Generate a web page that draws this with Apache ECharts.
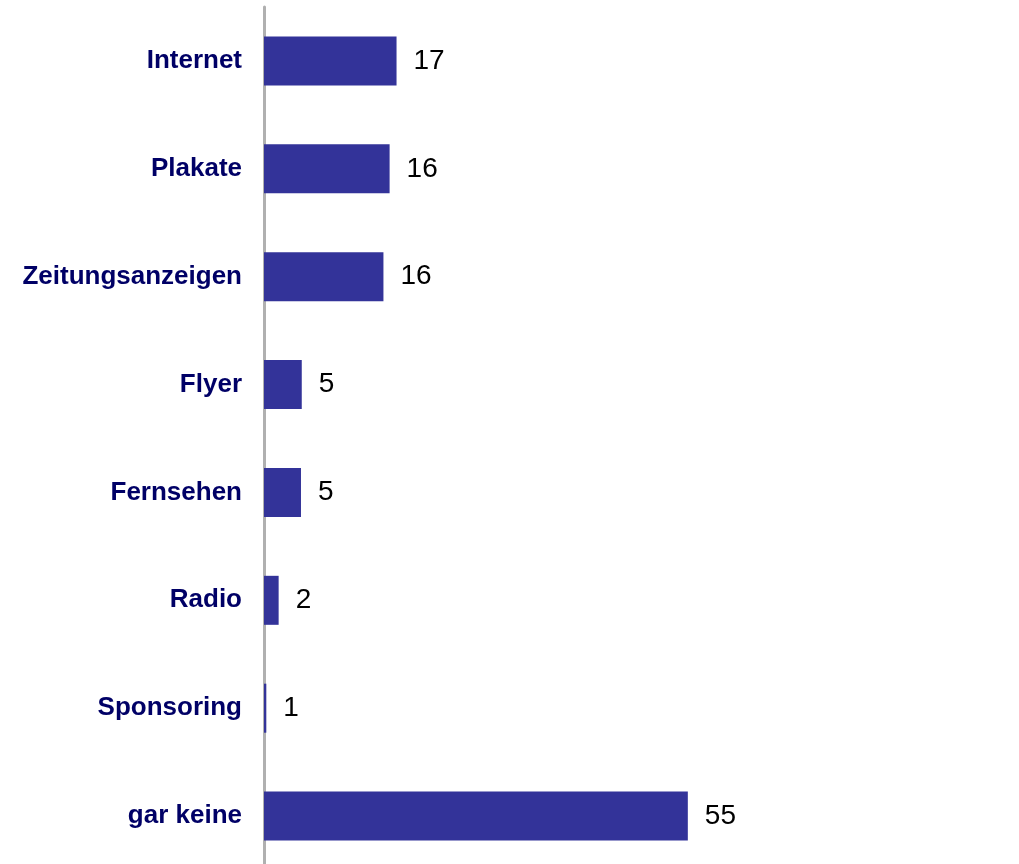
<!DOCTYPE html>
<html>
<head>
<meta charset="utf-8">
<script src="https://cdn.jsdelivr.net/npm/echarts@6/dist/echarts.min.js"></script>
<style>
  html, body { margin: 0; padding: 0; background: #fff; overflow: hidden; }
  #chart { width: 1019px; height: 870px; }
</style>
</head>
<body>
<div id="chart"></div>
<script>
// Kategorien von oben nach unten
const categories = ['Internet', 'Plakate', 'Zeitungsanzeigen', 'Flyer', 'Fernsehen', 'Radio', 'Sponsoring', 'gar keine'];
// Balkenlaengen und angezeigte Werte
const values = [17.2, 16.3, 15.5, 4.9, 4.8, 1.9, 0.3, 55];
const valueLabels = ['17', '16', '16', '5', '5', '2', '1', '55'];

const chart = echarts.init(document.getElementById('chart'));

chart.setOption({
    animation: false,
    grid: { left: 264, right: 100, top: 7, bottom: 0, containLabel: false },
    xAxis: {
        type: 'value',
        min: 0,
        max: 85,
        show: false
    },
    yAxis: {
        type: 'category',
        inverse: true,
        data: categories,
        axisLine: { show: true, lineStyle: { color: '#b0b0b0', width: 3 } },
        axisTick: { show: false },
        axisLabel: {
            margin: 22,
            color: '#000066',
            fontFamily: 'Liberation Sans, Arial, sans-serif',
            fontWeight: 'bold',
            fontSize: 26
        }
    },
    series: [{
        type: 'bar',
        data: values,
        barWidth: 49,
        itemStyle: { color: '#333399' },
        label: {
            show: true,
            position: 'right',
            distance: 17,
            color: '#000',
            fontFamily: 'Liberation Sans, Arial, sans-serif',
            fontSize: 28,
            formatter: p => valueLabels[p.dataIndex]
        }
    }]
});
</script>
</body>
</html>
